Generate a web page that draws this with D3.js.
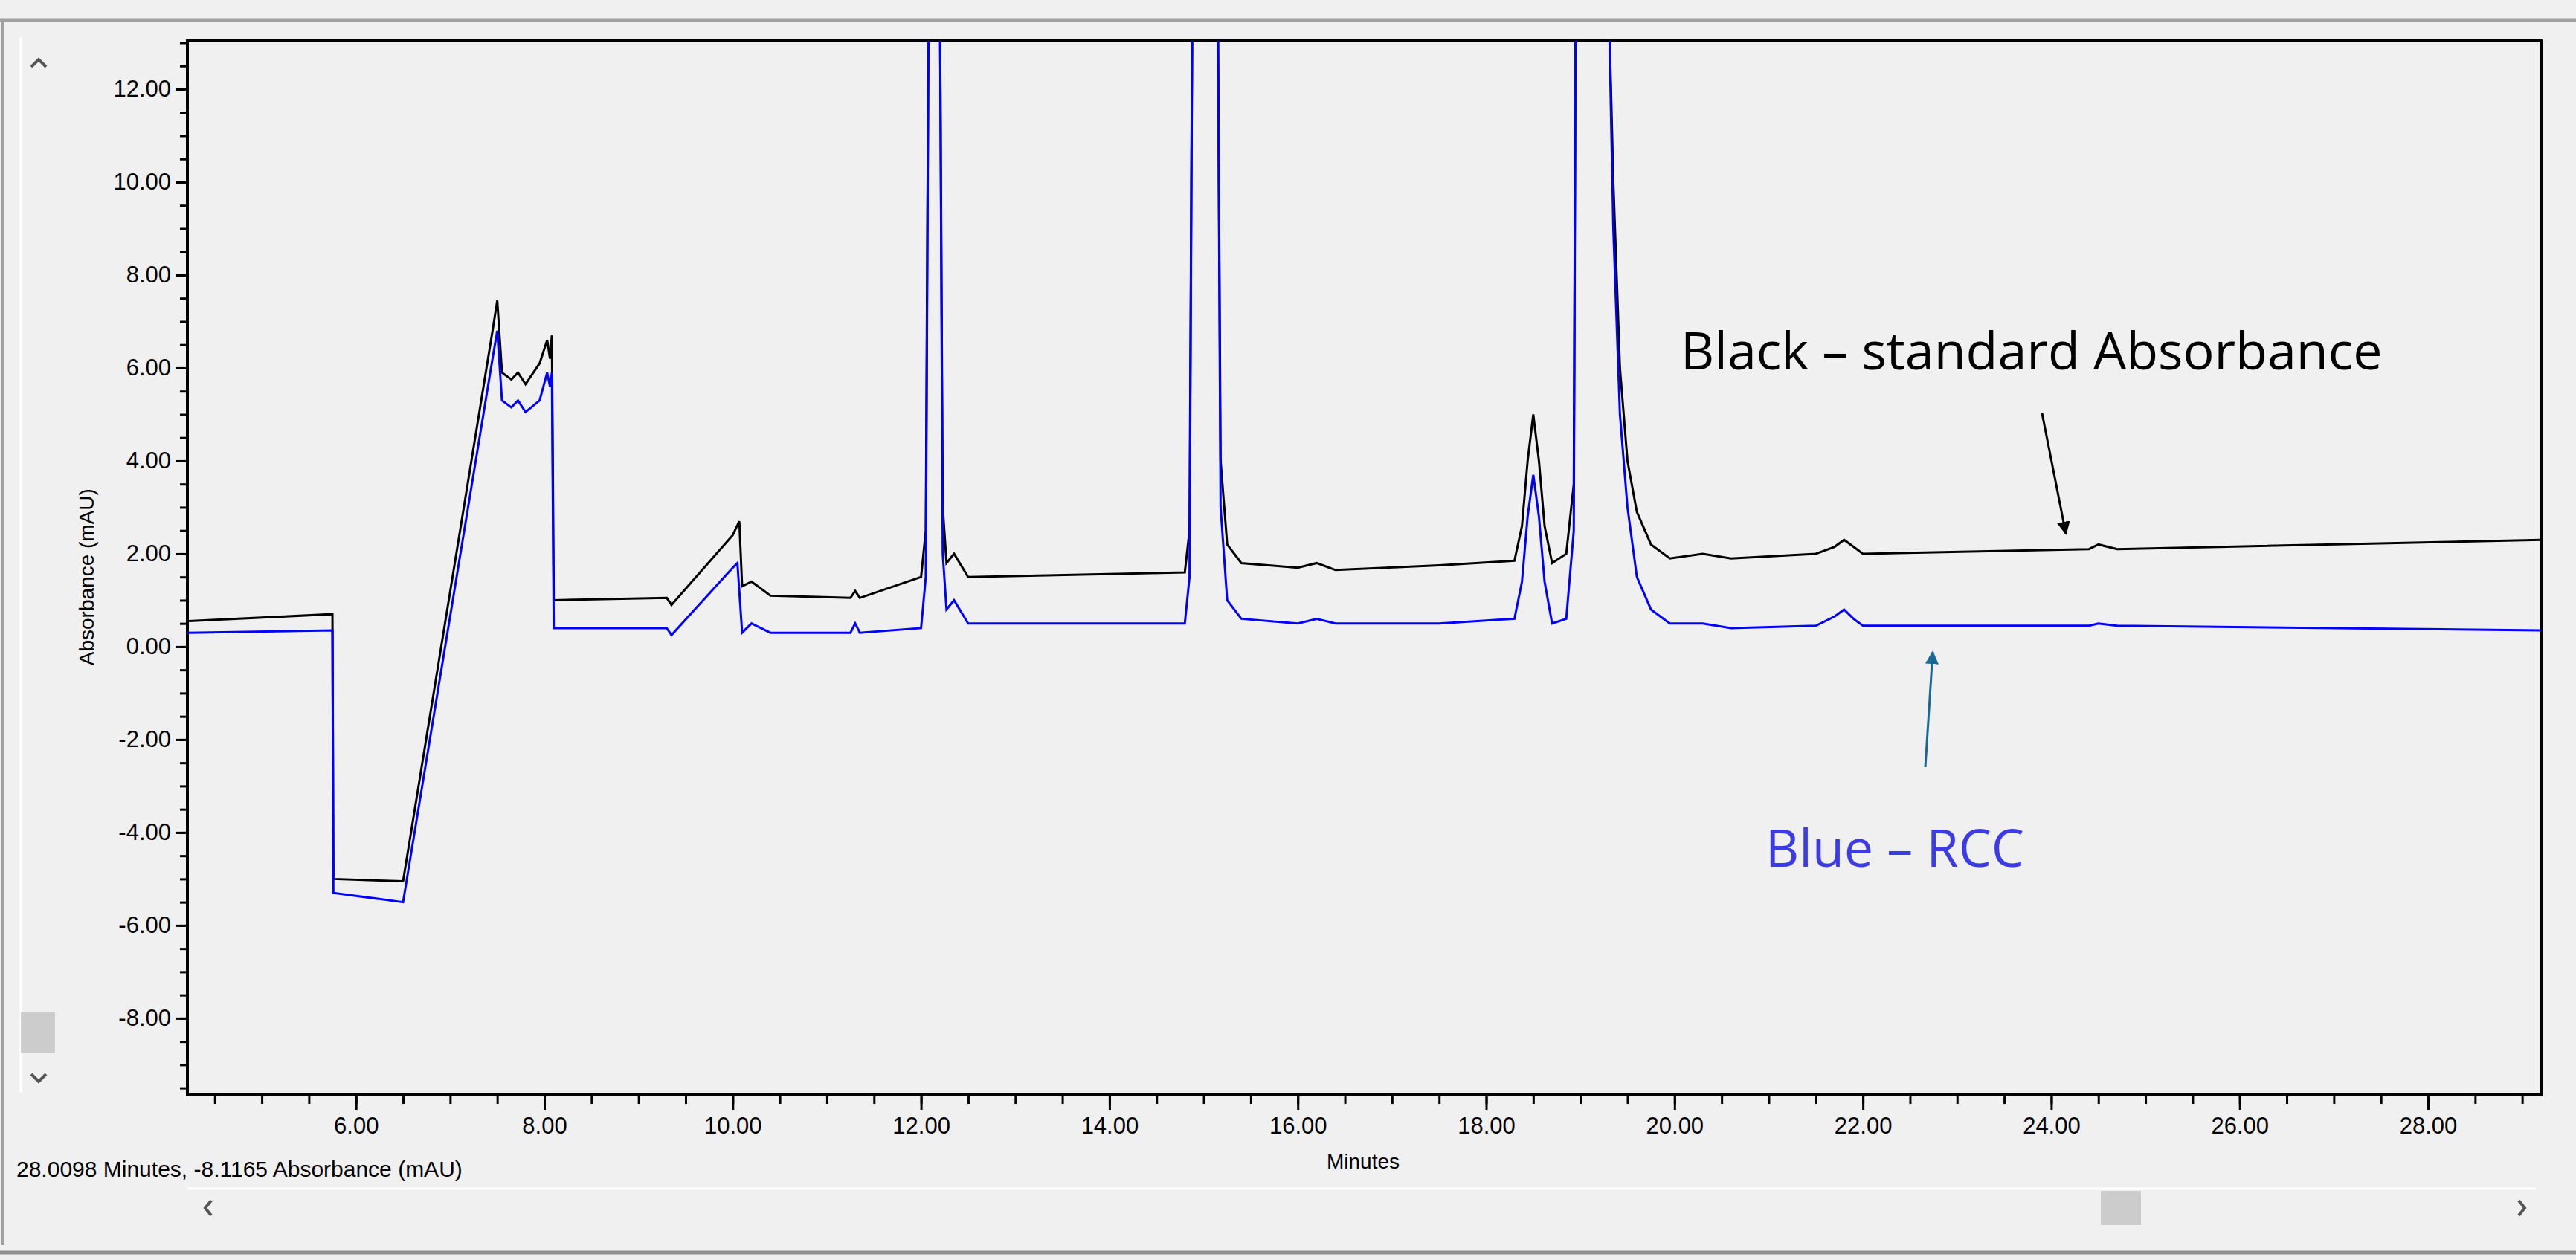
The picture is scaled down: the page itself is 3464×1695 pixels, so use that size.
<!DOCTYPE html>
<html>
<head>
<meta charset="utf-8">
<script src="https://cdn.jsdelivr.net/npm/d3@7"></script>
<style>
  body { margin: 0; background: #f0f0f0; }
  svg { display: block; }
</style>
</head>
<body>
<script>
'use strict';

// Black trace: standard absorbance [minutes, mAU]
const blackMinutes = [4.21, 5.75, 5.76, 6.5, 7.45, 7.5, 7.55, 7.65, 7.72, 7.8, 7.95, 8.03, 8.06, 8.08, 8.1, 9.3, 9.35, 10.0, 10.07, 10.1, 10.2, 10.4, 11.25, 11.3, 11.35, 12.0, 12.05, 12.08, 12.2, 12.23, 12.27, 12.35, 12.5, 14.8, 14.85, 14.88, 15.15, 15.18, 15.25, 15.4, 16.0, 16.2, 16.4, 17.5, 18.3, 18.38, 18.44, 18.5, 18.56, 18.62, 18.7, 18.85, 18.93, 18.95, 19.3, 19.35, 19.42, 19.5, 19.6, 19.75, 19.95, 20.3, 20.6, 21.5, 21.7, 21.8, 21.9, 22.0, 24.4, 24.5, 24.7, 29.2];
const blackValues  = [0.55, 0.7, -5.0, -5.05, 6.8, 7.45, 5.9, 5.75, 5.9, 5.65, 6.1, 6.6, 6.2, 6.7, 1.0, 1.05, 0.9, 2.4, 2.7, 1.3, 1.4, 1.1, 1.05, 1.2, 1.05, 1.5, 2.5, 14, 14, 3.0, 1.8, 2.0, 1.5, 1.6, 2.5, 14, 14, 4.0, 2.2, 1.8, 1.7, 1.8, 1.65, 1.75, 1.85, 2.6, 4.0, 5.0, 4.0, 2.6, 1.8, 2.0, 3.5, 14, 14, 10.0, 6.0, 4.0, 2.9, 2.2, 1.9, 2.0, 1.9, 2.0, 2.15, 2.3, 2.15, 2.0, 2.1, 2.2, 2.1, 2.3];

// Blue trace: RCC
const blueMinutes = [4.21, 5.75, 5.76, 6.5, 7.45, 7.5, 7.55, 7.65, 7.72, 7.8, 7.95, 8.03, 8.06, 8.08, 8.1, 9.3, 9.35, 10.0, 10.05, 10.1, 10.2, 10.4, 11.25, 11.3, 11.35, 12.0, 12.05, 12.08, 12.2, 12.23, 12.27, 12.35, 12.5, 14.8, 14.85, 14.88, 15.15, 15.18, 15.25, 15.4, 16.0, 16.2, 16.4, 17.5, 18.3, 18.38, 18.44, 18.5, 18.56, 18.62, 18.7, 18.85, 18.93, 18.95, 19.3, 19.35, 19.42, 19.5, 19.6, 19.75, 19.95, 20.3, 20.6, 21.5, 21.7, 21.8, 21.9, 22.0, 24.4, 24.5, 24.7, 29.2];
const blueValues  = [0.3, 0.35, -5.3, -5.5, 6.2, 6.8, 5.3, 5.15, 5.3, 5.05, 5.3, 5.9, 5.6, 5.9, 0.4, 0.4, 0.25, 1.7, 1.8, 0.3, 0.5, 0.3, 0.3, 0.5, 0.3, 0.4, 1.5, 14, 14, 2.0, 0.8, 1.0, 0.5, 0.5, 1.5, 14, 14, 3.0, 1.0, 0.6, 0.5, 0.6, 0.5, 0.5, 0.6, 1.4, 2.8, 3.7, 2.8, 1.4, 0.5, 0.6, 2.5, 14, 14, 9.0, 5.0, 3.0, 1.5, 0.8, 0.5, 0.5, 0.4, 0.45, 0.65, 0.8, 0.6, 0.45, 0.45, 0.5, 0.45, 0.35];

const xTicks = [6, 8, 10, 12, 14, 16, 18, 20, 22, 24, 26, 28];
const yTicks = [-8, -6, -4, -2, 0, 2, 4, 6, 8, 10, 12];

const W = 3464, H = 1695;
const plot = { left: 252, right: 3417, top: 55, bottom: 1473 };

const svg = d3.select('body').append('svg').attr('width', W).attr('height', H);

// window chrome
svg.append('rect').attr('width', W).attr('height', H).attr('fill', '#f0f0f0');
svg.append('line').attr('x1', 0).attr('x2', W).attr('y1', 27).attr('y2', 27)
    .attr('stroke', '#a0a0a0').attr('stroke-width', 5);
svg.append('line').attr('x1', 4).attr('x2', 4).attr('y1', 27).attr('y2', 1675)
    .attr('stroke', '#a0a0a0').attr('stroke-width', 4);
svg.append('line').attr('x1', 0).attr('x2', W).attr('y1', 1685).attr('y2', 1685)
    .attr('stroke', '#909090').attr('stroke-width', 5);
svg.append('line').attr('x1', 28).attr('x2', 28).attr('y1', 50).attr('y2', 1470)
    .attr('stroke', '#ffffff').attr('stroke-width', 3);
svg.append('line').attr('x1', 252).attr('x2', 3410).attr('y1', 1599).attr('y2', 1599)
    .attr('stroke', '#ffffff').attr('stroke-width', 3);
svg.append('rect').attr('x', 28).attr('y', 1362).attr('width', 46).attr('height', 54).attr('fill', '#cccccc');
svg.append('rect').attr('x', 2825).attr('y', 1602).attr('width', 54).attr('height', 46).attr('fill', '#cccccc');
const chev = (d) => svg.append('path').attr('d', d).attr('fill', 'none')
    .attr('stroke', '#555').attr('stroke-width', 4);
chev('M42,90 L52,80 L62,90');
chev('M42,1445 L52,1455 L62,1445');
chev('M284,1615 L276,1625 L284,1635');
chev('M3387,1615 L3395,1625 L3387,1635');

const x = d3.scaleLinear().domain([4.21, 29.2]).range([plot.left, plot.right]);
const y = d3.scaleLinear().domain([-9.65, 13.04]).range([plot.bottom, plot.top]);

const g = svg.append('g');
const fmt = v => v.toFixed(2);
const font = '"Liberation Sans", Arial, sans-serif';

// minor ticks
const xMinor = d3.range(4.5, 29.2, 0.5);
const yMinor = d3.range(-9.5, 13.04, 0.5);

const xAxis = g.append('g').attr('transform', `translate(0,${plot.bottom})`)
    .call(d3.axisBottom(x).tickValues(xMinor).tickSize(12).tickFormat(''));
const xMajor = g.append('g').attr('transform', `translate(0,${plot.bottom})`)
    .call(d3.axisBottom(x).tickValues(xTicks).tickSize(20).tickPadding(10).tickFormat(fmt));
const yAxis = g.append('g').attr('transform', `translate(${plot.left},0)`)
    .call(d3.axisLeft(y).tickValues(yMinor).tickSize(10).tickFormat(''));
const yMajor = g.append('g').attr('transform', `translate(${plot.left},0)`)
    .call(d3.axisLeft(y).tickValues(yTicks).tickSize(16).tickPadding(6).tickFormat(fmt));

[xAxis, xMajor, yAxis, yMajor].forEach(a => {
    a.select('.domain').remove();
    a.selectAll('line').attr('stroke', '#000').attr('stroke-width', 3);
    a.selectAll('text').attr('font-family', font).attr('font-size', 31).attr('fill', '#000');
});

// frame
g.append('rect').attr('x', plot.left).attr('y', plot.top)
    .attr('width', plot.right - plot.left).attr('height', plot.bottom - plot.top)
    .attr('fill', 'none').attr('stroke', '#000').attr('stroke-width', 4);

// traces
svg.append('clipPath').attr('id', 'clip').append('rect')
    .attr('x', plot.left).attr('y', plot.top)
    .attr('width', plot.right - plot.left).attr('height', plot.bottom - plot.top);

const line = d3.line().x(d => x(d[0])).y(d => y(d[1]));
const traces = g.append('g').attr('clip-path', 'url(#clip)');
traces.append('path').datum(d3.zip(blackMinutes, blackValues))
    .attr('d', line).attr('fill', 'none').attr('stroke', '#000').attr('stroke-width', 3);
traces.append('path').datum(d3.zip(blueMinutes, blueValues))
    .attr('d', line).attr('fill', 'none').attr('stroke', '#0000ff').attr('stroke-width', 3);

// axis titles
svg.append('text').attr('transform', `translate(126,${y(1.5)}) rotate(-90)`)
    .attr('text-anchor', 'middle').attr('font-family', font).attr('font-size', 28)
    .text('Absorbance (mAU)');
svg.append('text').attr('x', 1833).attr('y', 1572).attr('text-anchor', 'middle')
    .attr('font-family', font).attr('font-size', 28).text('Minutes');
svg.append('text').attr('x', 22).attr('y', 1583)
    .attr('font-family', font).attr('font-size', 30)
    .text('28.0098 Minutes, -8.1165 Absorbance (mAU)');

// annotations
svg.append('defs').selectAll('marker').data([['ab', '#000'], ['au', '#1a6896']]).join('marker')
    .attr('id', d => d[0]).attr('viewBox', '0 0 10 10').attr('refX', 9).attr('refY', 5)
    .attr('markerWidth', 6).attr('markerHeight', 6).attr('orient', 'auto')
    .append('path').attr('d', 'M0,0 L10,5 L0,10 z').attr('fill', d => d[1]);

svg.append('text').attr('x', 2260).attr('y', 497).attr('font-family', '"Open Sans", sans-serif')
    .attr('font-size', 70).attr('fill', '#000').text('Black – standard Absorbance');
svg.append('line').attr('x1', 2746).attr('y1', 556).attr('x2', 2778).attr('y2', 718)
    .attr('stroke', '#000').attr('stroke-width', 3).attr('marker-end', 'url(#ab)');
svg.append('text').attr('x', 2374).attr('y', 1166).attr('font-family', '"Open Sans", sans-serif')
    .attr('font-size', 70).attr('fill', '#3c3ce6').text('Blue – RCC');
svg.append('line').attr('x1', 2589).attr('y1', 1032).attr('x2', 2599).attr('y2', 877)
    .attr('stroke', '#1a6896').attr('stroke-width', 3).attr('marker-end', 'url(#au)');
</script>
</body>
</html>
